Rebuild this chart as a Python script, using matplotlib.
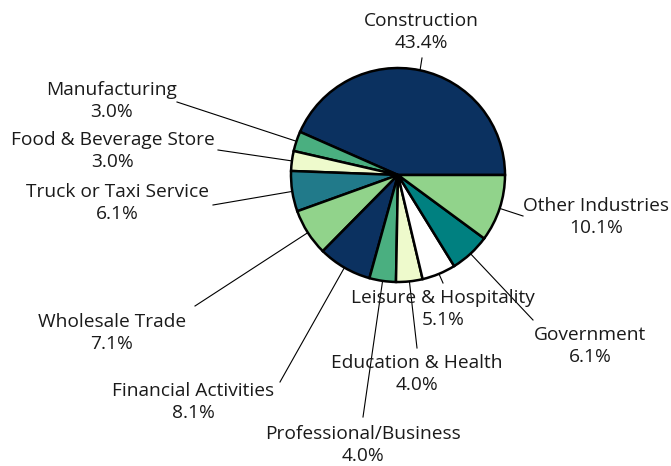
import matplotlib
matplotlib.use("Agg")
import matplotlib.pyplot as plt
import numpy as np

categories = ["Construction", "Manufacturing", "Food & Beverage Store",
              "Truck or Taxi Service", "Wholesale Trade", "Financial Activities",
              "Professional/Business", "Education & Health", "Leisure & Hospitality",
              "Government", "Other Industries"]
values = [43.4, 3.0, 3.0, 6.1, 7.1, 8.1, 4.0, 4.0, 5.1, 6.1, 10.1]
colors = ["#0b3160", "#4aaf80", "#eefacc", "#217a8a", "#91d38b", "#0b3160",
          "#4aaf80", "#eefacc", "#ffffff", "#008080", "#91d38b"]

W, H = 671, 466
fig = plt.figure(figsize=(W / 100, H / 100), dpi=100)
ax = fig.add_axes([0, 0, 1, 1])

cx, cy, R = 398, H - 175, 107
wedges, _ = ax.pie(values, colors=colors, startangle=0, counterclock=True,
                   center=(cx, cy), radius=R, frame=True,
                   wedgeprops=dict(edgecolor="black", linewidth=1.8))
ax.set_xlim(0, W)
ax.set_ylim(0, H)
ax.axis("off")

# layout: label centre (screen px) and leader end (screen px)
label_pos = [(421, 32), (112, 101), (113, 151), (117, 203), (112, 333),
             (193, 402), (363, 445), (417, 374), (443, 309), (590, 346), (596, 217)]
leader_end = [(422, 58), (177, 102), (218, 150), (213, 205), (195, 306),
              (280, 382), (363, 417), (417, 348), (443, 283), (533, 320), (523, 216)]

font = ["Open Sans", "DejaVu Sans"]
for w, cat, v, (lx, ly), (ex, ey) in zip(wedges, categories, values, label_pos, leader_end):
    ang = np.deg2rad((w.theta1 + w.theta2) / 2)
    px, py = cx + R * np.cos(ang), cy + R * np.sin(ang)
    ax.plot([px, ex], [py, H - ey], color="black", linewidth=0.8, zorder=0.5)
    ax.text(lx, H - ly, f"{cat}\n{v:.1f}%", ha="center", va="center",
            fontsize=13.8, family=font, linespacing=1.28, color="#1a1a1a")

fig.savefig("out.png", dpi=100)
